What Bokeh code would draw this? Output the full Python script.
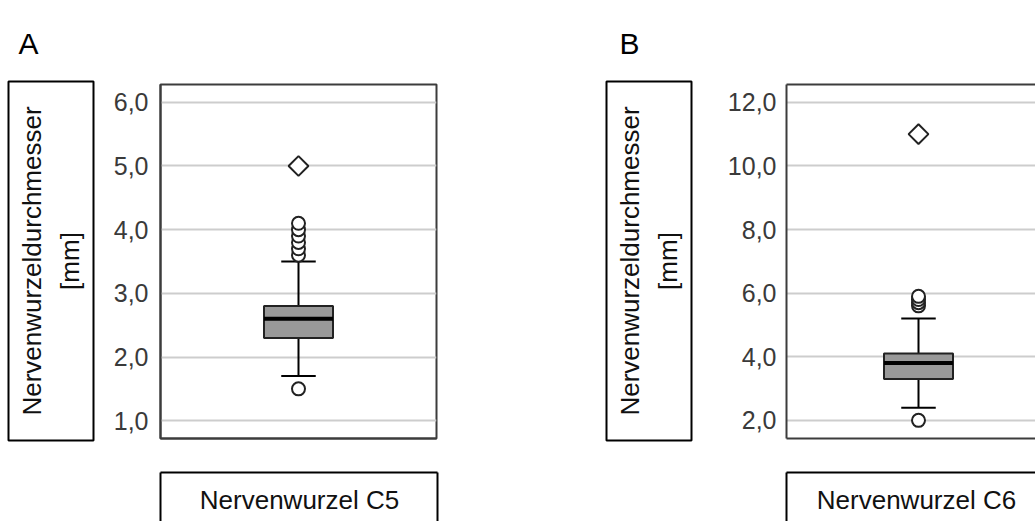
from math import pi
from bokeh.plotting import figure
from bokeh.layouts import row, column
from bokeh.models import (Range1d, FixedTicker, LinearAxis, Grid, CustomJSTickFormatter)
from bokeh.core.properties import value
from bokeh.embed import file_html
from bokeh.resources import INLINE

# ---------------- data ----------------
panel_letters = ["A", "B"]
root_labels = ["Nervenwurzel C5", "Nervenwurzel C6"]
y_title = "Nervenwurzeldurchmesser\n[mm]"
q1 = [2.3, 3.3]
median = [2.6, 3.8]
q3 = [2.8, 4.1]
whisker_low = [1.7, 2.4]
whisker_high = [3.5, 5.2]
outliers_c5 = [1.5, 3.6, 3.7, 3.8, 3.9, 4.0, 4.1]
outliers_c6 = [2.0, 5.6, 5.7, 5.8, 5.9]
extremes_c5 = [5.0]
extremes_c6 = [11.0]
ticks_c5 = [1, 2, 3, 4, 5, 6]
ticks_c6 = [2, 4, 6, 8, 10, 12]
y_range_c5 = (0.72, 6.28)
y_range_c6 = (1.43, 12.56)

FONT = "Liberation Sans"
FRAME = "#3c3c3c"
BOX_W = 0.25
CAP_W = 0.125
POS = 0.5
TOTAL_H = 521


def base(**kw):
    return figure(x_axis_type=None, y_axis_type=None,
                  output_backend="svg", toolbar_location=None,
                  background_fill_color="white", border_fill_color="white", **kw)


def line_axis(color="black"):
    return LinearAxis(ticker=FixedTicker(ticks=[]), axis_line_color=color,
                      axis_line_width=2, major_tick_line_color=None,
                      minor_tick_line_color=None, major_tick_out=0, minor_tick_out=0,
                      major_label_text_font_size="0px")


def ylabel_fig(width, left, letter, offset, standoff):
    p = base(title=letter, frame_width=85, frame_height=359, min_border_left=left,
             min_border_right=width - left - 85, min_border_top=81,
             min_border_bottom=TOTAL_H - 81 - 359,
             x_range=Range1d(0, 1), y_range=Range1d(0, 1))
    p.title.text_font = FONT
    p.title.text_font_size = "30px"
    p.title.text_font_style = "normal"
    p.title.text_color = "black"
    p.title.align = "left"
    p.title.vertical_align = "top"
    p.title.offset = offset
    p.title.standoff = standoff
    p.outline_line_color = "black"
    p.outline_line_width = 2
    p.text(x=[0.5], y=[0.5], text=[y_title], angle=pi / 2, text_align="center",
           text_baseline="middle", text_font=value(FONT), text_font_size="26px",
           text_color="#111111", text_line_height=1.25)
    return p


def main_fig(i, outliers, extremes, ticks, yr, xr, frame_w, left, right, full,
             standoff):
    p = base(title=None, frame_width=frame_w, frame_height=354, min_border_left=left,
             min_border_right=right, min_border_top=84, min_border_bottom=24,
             x_range=Range1d(*xr), y_range=Range1d(*yr))
    p.outline_line_color = FRAME if full else None
    p.outline_line_width = 2

    ticker = FixedTicker(ticks=ticks)
    yaxis = LinearAxis(ticker=ticker,
                       formatter=CustomJSTickFormatter(
                           code="return tick.toFixed(1).replace('.', ',');"),
                       axis_line_color=FRAME, axis_line_width=2,
                       major_tick_line_color=None, minor_tick_line_color=None,
                       major_tick_out=0, major_tick_in=0, minor_tick_out=0,
                       major_label_standoff=standoff, major_label_text_font=FONT,
                       major_label_text_font_size="25px",
                       major_label_text_color="#3a3a3a")
    p.add_layout(yaxis, "left")
    p.add_layout(line_axis(FRAME), "below")
    if not full:
        p.add_layout(line_axis(FRAME), "above")
    p.add_layout(Grid(dimension=1, ticker=ticker, grid_line_color="#cdcdcd",
                      grid_line_width=2))

    x = [POS]
    p.segment(x0=x, y0=[whisker_low[i]], x1=x, y1=[whisker_high[i]],
              line_color="black", line_width=2)
    for w in (whisker_low[i], whisker_high[i]):
        p.segment(x0=[POS - CAP_W / 2], x1=[POS + CAP_W / 2], y0=[w], y1=[w],
                  line_color="black", line_width=2)
    p.vbar(x=x, width=BOX_W, bottom=[q1[i]], top=[q3[i]],
           fill_color="#999999", line_color="#222222", line_width=2)
    p.segment(x0=[POS - BOX_W / 2], x1=[POS + BOX_W / 2], y0=[median[i]],
              y1=[median[i]], line_color="black", line_width=4)
    p.scatter(x=[POS] * len(outliers), y=outliers, marker="circle", size=13,
              fill_color="white", line_color="#222222", line_width=2)
    p.scatter(x=[POS] * len(extremes), y=extremes, marker="square", angle=pi / 4,
              size=14, fill_color="white", line_color="#222222", line_width=2)
    return p


def xlabel_fig(i, frame_w, left, right, tx, right_line):
    p = base(title=None, frame_width=frame_w, frame_height=49, min_border_left=left,
             min_border_right=right, min_border_top=10, min_border_bottom=0,
             x_range=Range1d(0, frame_w), y_range=Range1d(49, 0))
    p.outline_line_color = None
    p.add_layout(line_axis(), "left")
    p.add_layout(line_axis(), "above")
    if right_line:
        p.add_layout(line_axis(), "right")
    p.text(x=[tx], y=[27], text=[root_labels[i]], text_align="center",
           text_baseline="alphabetic", text_font=value(FONT),
           text_font_size="26px", text_color="#111111")
    return p


# Panel A (x 0..517)
A_left = ylabel_fig(110, 8, panel_letters[0], 10, 40)
A_right = column(
    main_fig(0, outliers_c5, extremes_c5, ticks_c5, y_range_c5, (0.0, 1.0),
             276, 49, 82, True, 12),
    xlabel_fig(0, 277, 48, 82, 139, True))

# Panel B (x 517..1035)
startB = POS - 132 / 276
B_left = ylabel_fig(183, 88, panel_letters[1], 13, 40)
B_right = column(
    main_fig(1, outliers_c6, extremes_c6, ticks_c6, y_range_c6,
             (startB, startB + 253 / 276), 253, 82, 0, False, 10),
    xlabel_fig(1, 250, 85, 0, 130, False))

layout = row(A_left, A_right, B_left, B_right)
open("out.html", "w").write(file_html(layout, INLINE))
